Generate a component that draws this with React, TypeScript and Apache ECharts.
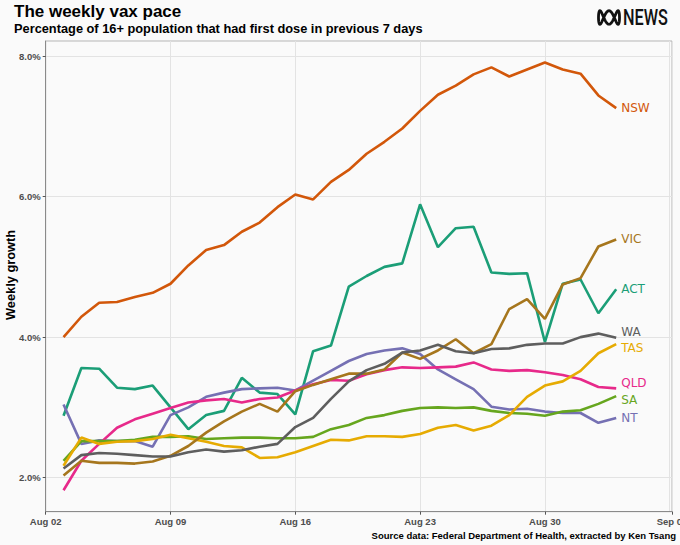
import React, { useEffect, useRef } from "react";
import * as echarts from "echarts";

// ---- data ----
const dates = [
  "2021-08-03", "2021-08-04", "2021-08-05", "2021-08-06", "2021-08-07", "2021-08-08",
  "2021-08-09", "2021-08-10", "2021-08-11", "2021-08-12", "2021-08-13", "2021-08-14",
  "2021-08-15", "2021-08-16", "2021-08-17", "2021-08-18", "2021-08-19", "2021-08-20",
  "2021-08-21", "2021-08-22", "2021-08-23", "2021-08-24", "2021-08-25", "2021-08-26",
  "2021-08-27", "2021-08-28", "2021-08-29", "2021-08-30", "2021-08-31", "2021-09-01",
  "2021-09-02", "2021-09-03",
];

const ACT = [2.88, 3.56, 3.55, 3.28, 3.26, 3.31, 3.0, 2.69, 2.89, 2.95, 3.42, 3.21, 3.19, 2.9, 3.8, 3.88, 4.72, 4.87, 5.0, 5.05, 5.89, 5.28, 5.55, 5.57, 4.92, 4.9, 4.91, 3.93, 4.76, 4.82, 4.34, 4.68];
const NSW = [4.0, 4.29, 4.49, 4.5, 4.57, 4.63, 4.76, 5.02, 5.24, 5.31, 5.5, 5.63, 5.85, 6.03, 5.96, 6.21, 6.38, 6.61, 6.78, 6.97, 7.22, 7.45, 7.58, 7.74, 7.84, 7.71, 7.81, 7.91, 7.81, 7.75, 7.44, 7.26];
const NT = [3.04, 2.48, 2.53, 2.52, 2.52, 2.44, 2.89, 3.0, 3.15, 3.21, 3.26, 3.27, 3.28, 3.24, 3.38, 3.52, 3.66, 3.76, 3.81, 3.84, 3.76, 3.54, 3.4, 3.26, 3.01, 2.97, 2.98, 2.94, 2.92, 2.92, 2.78, 2.85];
const QLD = [1.82, 2.24, 2.48, 2.71, 2.83, 2.91, 2.99, 3.07, 3.1, 3.12, 3.07, 3.12, 3.14, 3.24, 3.33, 3.39, 3.38, 3.47, 3.53, 3.57, 3.56, 3.57, 3.58, 3.64, 3.54, 3.52, 3.53, 3.5, 3.46, 3.4, 3.29, 3.27];
const SA = [2.24, 2.52, 2.52, 2.52, 2.54, 2.58, 2.58, 2.59, 2.55, 2.56, 2.57, 2.57, 2.56, 2.56, 2.58, 2.69, 2.75, 2.85, 2.89, 2.95, 2.99, 3.0, 2.99, 3.0, 2.95, 2.92, 2.91, 2.88, 2.94, 2.96, 3.05, 3.16];
const TAS = [2.17, 2.57, 2.48, 2.51, 2.52, 2.55, 2.61, 2.56, 2.51, 2.45, 2.43, 2.28, 2.29, 2.36, 2.45, 2.54, 2.53, 2.59, 2.59, 2.58, 2.62, 2.71, 2.75, 2.67, 2.74, 2.89, 3.15, 3.31, 3.37, 3.52, 3.77, 3.9];
const VIC = [2.03, 2.24, 2.21, 2.21, 2.2, 2.23, 2.31, 2.45, 2.64, 2.8, 2.94, 3.05, 2.94, 3.23, 3.32, 3.4, 3.48, 3.48, 3.54, 3.78, 3.69, 3.81, 3.97, 3.77, 3.9, 4.4, 4.54, 4.26, 4.75, 4.84, 5.29, 5.39];
const WA = [2.13, 2.32, 2.35, 2.34, 2.32, 2.3, 2.3, 2.36, 2.4, 2.37, 2.39, 2.44, 2.48, 2.72, 2.85, 3.12, 3.37, 3.53, 3.62, 3.78, 3.81, 3.89, 3.8, 3.77, 3.83, 3.84, 3.89, 3.91, 3.91, 4.0, 4.05, 3.99];

const stateNames = ["ACT", "NSW", "NT", "QLD", "SA", "TAS", "VIC", "WA"];
const stateValues = [ACT, NSW, NT, QLD, SA, TAS, VIC, WA];
const stateColors = ["#1b9e77", "#d2570a", "#7570b3", "#e7298a", "#66a61e", "#e6ab02", "#a6761d", "#5e5e5e"];
const labelShiftY = [0, 0, 0, -5, 4, 4, 0, -6];

const yTickValues = [2, 4, 6, 8];
const xStart = "2021-08-02";
const xEnd = "2021-09-06";
const monthNames = ["Jan", "Feb", "Mar", "Apr", "May", "Jun", "Jul", "Aug", "Sep", "Oct", "Nov", "Dec"];

const DAY = 86400000;

function logoPoints(cx: number, cy: number, a: number, b: number) {
  const pts: number[][] = [];
  for (let i = 0; i <= 120; i++) {
    const t = (i / 120) * Math.PI * 2;
    pts.push([cx + a * Math.sin(t), cy + b * Math.cos(3 * t)]);
  }
  return pts;
}

export default function App() {
  const ref = useRef<HTMLDivElement>(null);

  useEffect(() => {
    if (!ref.current) return;
    const chart = echarts.init(ref.current, undefined, { renderer: "svg" });
    const t0 = Date.parse(xStart);
    const t1 = Date.parse(xEnd) + 0.13 * DAY;
    const baseFont = "'Liberation Sans', Arial, sans-serif";

    const series = stateNames.map((name, i) => ({
      name,
      type: "line",
      data: dates.map((d, k) => [Date.parse(d), stateValues[i][k]]),
      showSymbol: false,
      symbol: "none",
      lineStyle: { color: stateColors[i], width: 2.6 },
      itemStyle: { color: stateColors[i] },
      z: 2 + i,
      endLabel: {
        show: true,
        formatter: name,
        color: stateColors[i],
        fontSize: 12,
        fontFamily: "'DejaVu Sans', sans-serif",
        distance: 5,
        offset: [0, labelShiftY[i]],
      },
    }));

    chart.setOption({
      animation: false,
      backgroundColor: "#fafafa",
      grid: {
        left: 45.7, right: 8, top: 41, bottom: 33.3,
        outerBoundsMode: "none",
        containLabel: false,
        show: true, borderColor: "#b5b5b5", borderWidth: 1, backgroundColor: "transparent",
      },
      xAxis: {
        type: "value",
        min: t0,
        max: t1,
        interval: 7 * DAY,
        axisLine: { show: true, lineStyle: { color: "#8a8a8a", width: 1 } },
        axisTick: { show: true, length: 3, lineStyle: { color: "#555" } },
        splitLine: { show: true, lineStyle: { color: "#e3e3e3", width: 1 } },
        axisLabel: {
          color: "#4d4d4d",
          fontWeight: "bold",
          fontSize: 9.5,
          fontFamily: baseFont,
          margin: 5,
          showMaxLabel: true,
          hideOverlap: false,
          formatter: (v: number) => {
            const d = new Date(v);
            return monthNames[d.getUTCMonth()] + " " + String(d.getUTCDate()).padStart(2, "0");
          },
        },
      },
      yAxis: {
        type: "value",
        min: 1.515,
        max: 8.215,
        axisLine: { show: true, lineStyle: { color: "#8a8a8a", width: 1 } },
        axisTick: { show: true, length: 3, lineStyle: { color: "#555" }, customValues: yTickValues },
        splitLine: { show: true, lineStyle: { color: "#e3e3e3", width: 1 } },
        axisLabel: {
          customValues: yTickValues,
          color: "#4d4d4d",
          fontWeight: "bold",
          fontSize: 9.5,
          fontFamily: baseFont,
          margin: 5,
          formatter: (v: number) => v.toFixed(1) + "%",
        },
      },
      graphic: [
        {
          type: "text",
          x: 14,
          y: 11,
          style: { text: "The weekly vax pace", fill: "#000", font: "bold 17px " + baseFont, verticalAlign: "middle" },
        },
        {
          type: "text",
          x: 14,
          y: 28.5,
          style: { text: "Percentage of 16+ population that had first dose in previous 7 days", fill: "#000", font: "bold 12.8px " + baseFont, verticalAlign: "middle" },
        },
        {
          type: "text",
          x: 10,
          y: 275,
          rotation: Math.PI / 2,
          style: { text: "Weekly growth", fill: "#000", font: "bold 12.8px " + baseFont, align: "center", verticalAlign: "middle" },
        },
        {
          type: "text",
          x: 676,
          y: 535,
          style: { text: "Source data: Federal Department of Health, extracted by Ken Tsang", fill: "#000", font: "bold 9.5px " + baseFont, align: "right", verticalAlign: "middle" },
        },
        {
          type: "polyline",
          shape: { points: logoPoints(609, 17.5, 10.5, 6.8) },
          style: { stroke: "#111", lineWidth: 2.8, fill: "none" },
        },
        {
          type: "text",
          x: 623,
          y: 18,
          scaleX: 0.74,
          style: { text: "NEWS", fill: "#111", font: "500 22px Roboto, sans-serif", align: "left", verticalAlign: "middle" },
        },
      ],
      series,
    });

    return () => chart.dispose();
  }, []);

  return <div ref={ref} style={{ width: 680, height: 545, position: "absolute", left: 0, top: 0 }} />;
}
